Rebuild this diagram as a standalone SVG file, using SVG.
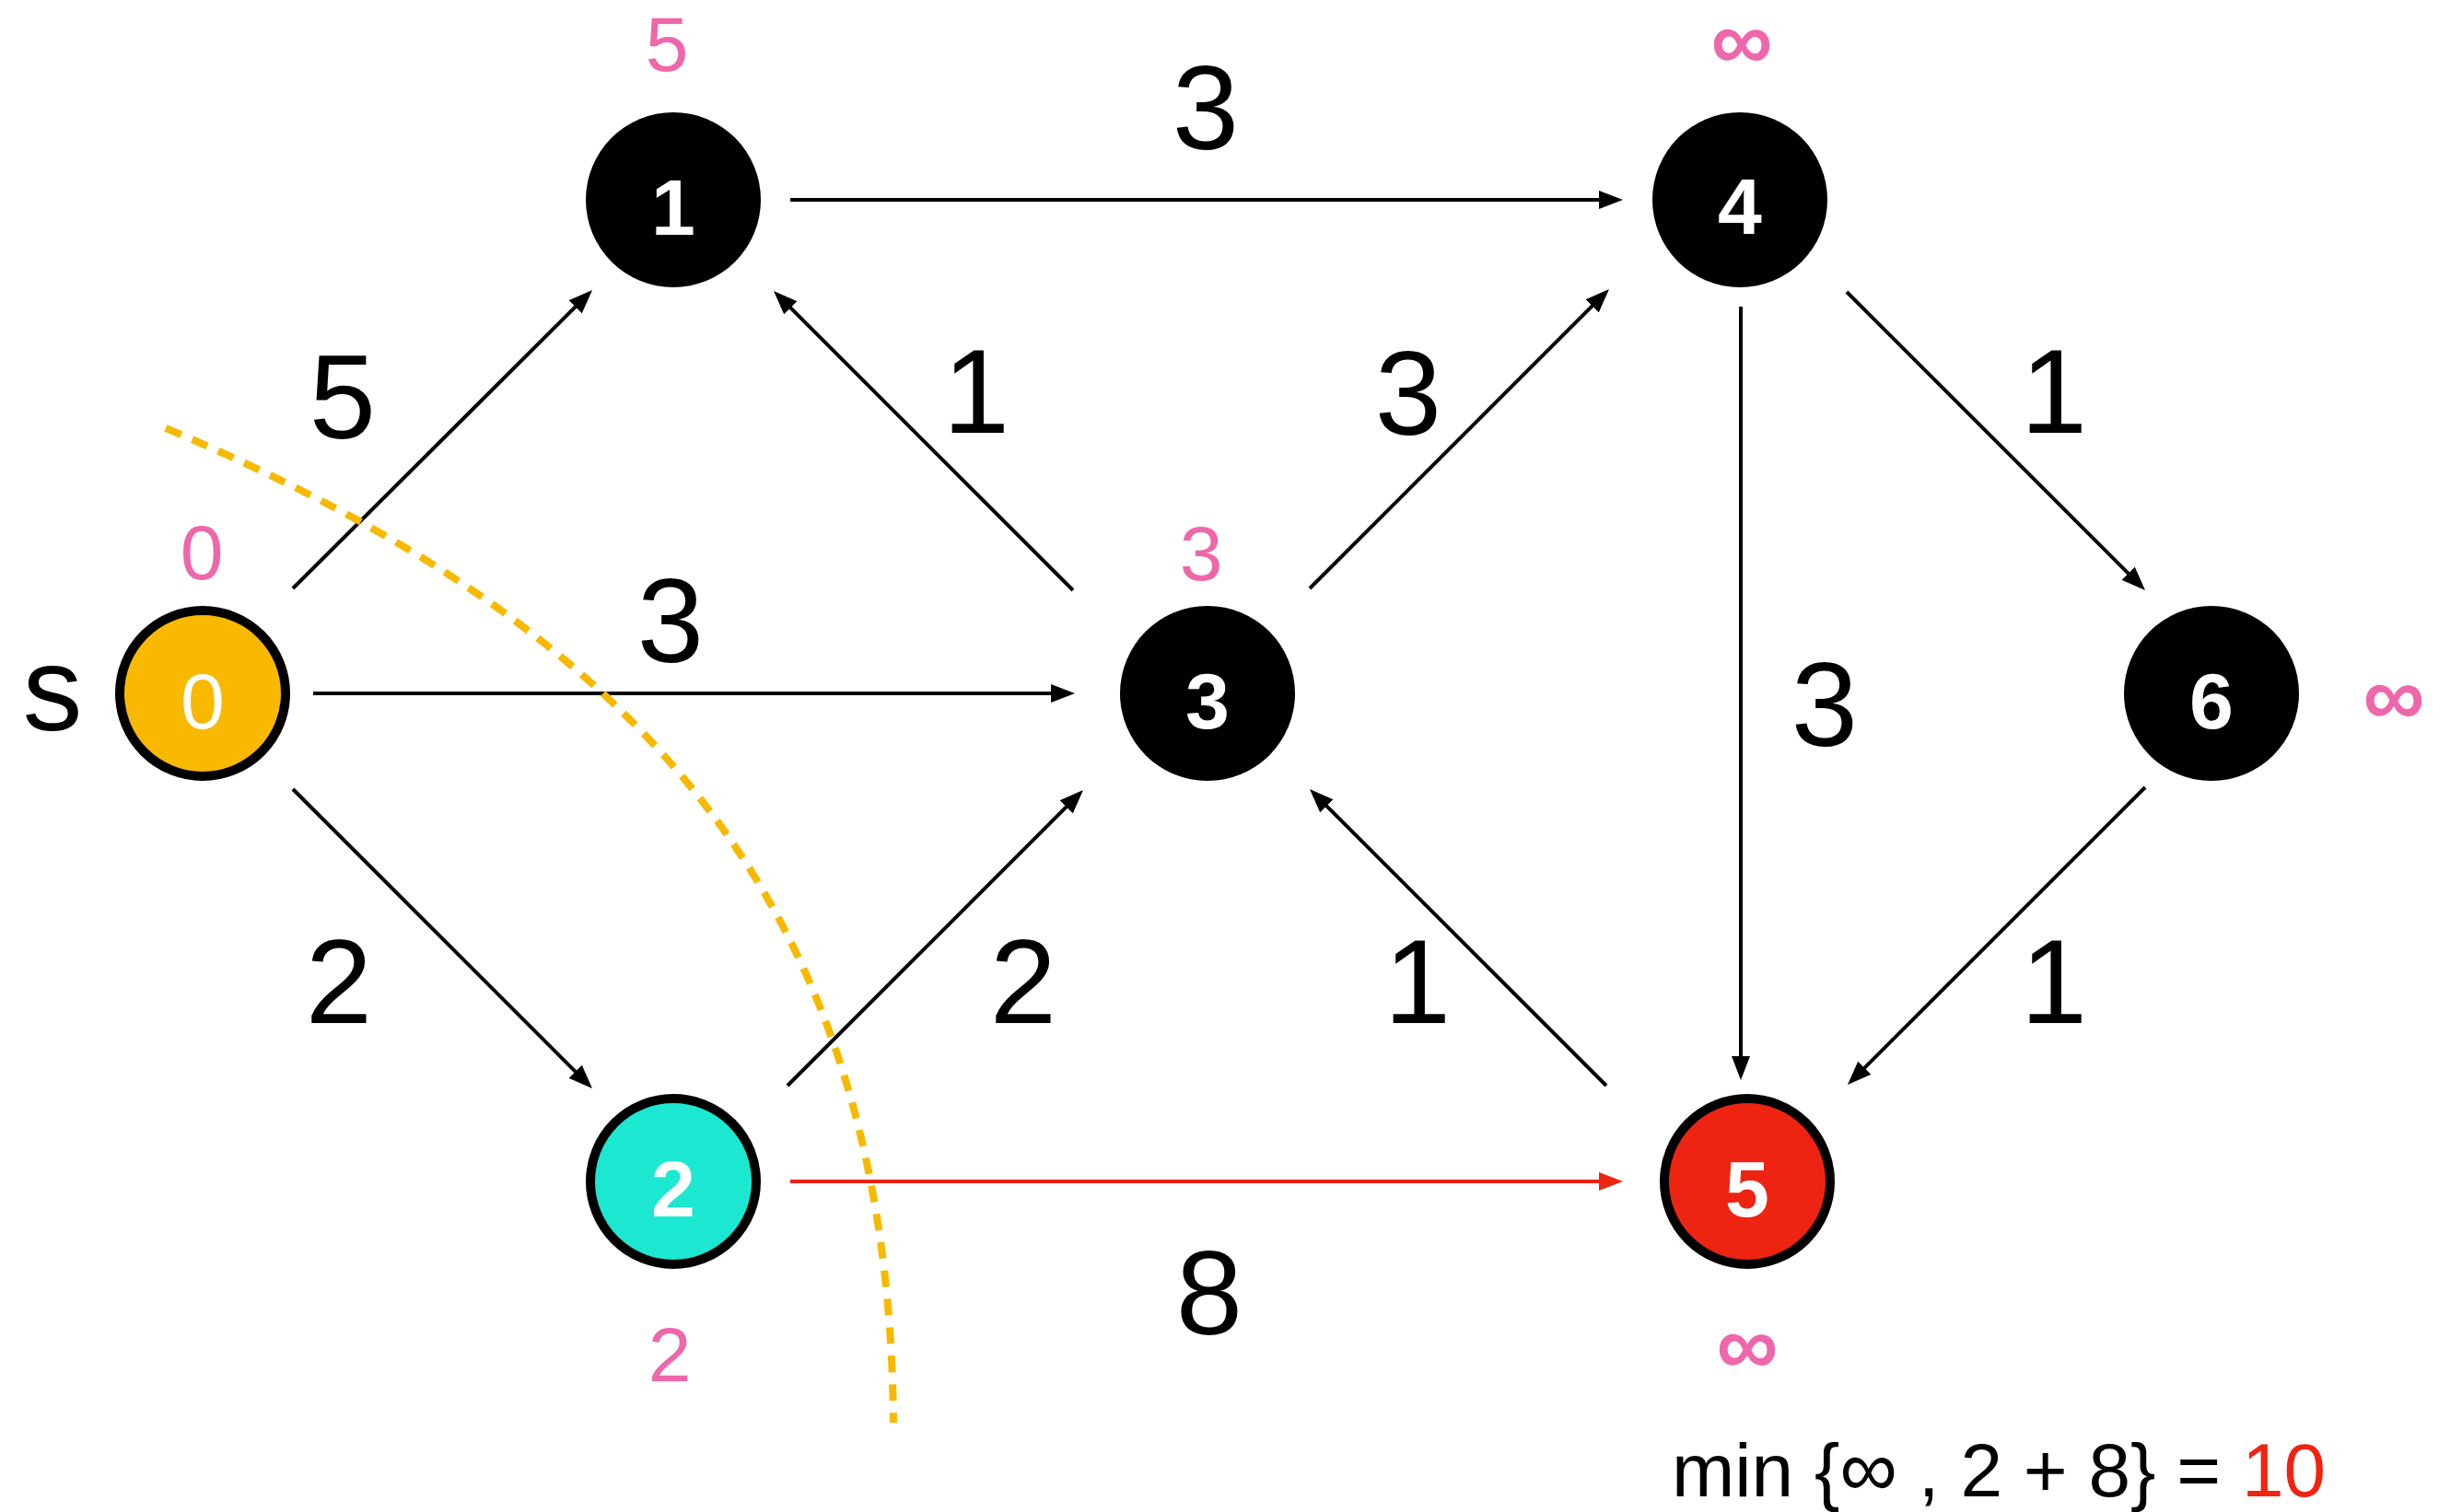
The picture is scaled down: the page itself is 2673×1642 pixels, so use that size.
<svg xmlns="http://www.w3.org/2000/svg" width="2673" height="1642" viewBox="0 0 2673 1642">
  <style>
    text { font-family: "Liberation Sans", Arial, sans-serif; }
    .edge { stroke: #000; stroke-width: 4; fill: none; marker-end: url(#arrow); }
    .edge.hot { stroke: #EE2413; marker-end: url(#arrowRed); }
    .w { font-size: 130px; fill: #000; text-anchor: middle; }
    .d { font-size: 84px; fill: #EF67AB; text-anchor: middle; }
    .inf { font-size: 94px; font-weight: bold; }
    .n { font-size: 86px; fill: #fff; text-anchor: middle; }
    .b { font-weight: bold; }
    .ring { stroke: #000; stroke-width: 10; }
    .cut { stroke: #F7B900; stroke-width: 8; stroke-dasharray: 18 13; fill: none; }
  </style>
  <defs>
    <marker id="arrow" markerUnits="userSpaceOnUse" markerWidth="26" markerHeight="20" viewBox="0 0 26 20" refX="20" refY="10" orient="auto">
      <path d="M0,0 L26,10 L0,20 Z" fill="#000"/>
    </marker>
    <marker id="arrowRed" markerUnits="userSpaceOnUse" markerWidth="26" markerHeight="20" viewBox="0 0 26 20" refX="20" refY="10" orient="auto">
      <path d="M0,0 L26,10 L0,20 Z" fill="#EE2413"/>
    </marker>
  </defs>

  <rect width="2673" height="1642" fill="#fff"/>

  <!-- directed edges -->
  <g id="edges">
    <path class="edge" d="M318,639 L638.8,319.2"/>
    <path class="edge" d="M340,753 L1161,753"/>
    <path class="edge" d="M318,857 L638.8,1177.8"/>
    <path class="edge" d="M858,217 L1756,217"/>
    <path class="edge" d="M1165,641 L844.2,320.2"/>
    <path class="edge" d="M1422,639 L1742.8,318.2"/>
    <path class="edge" d="M1890,333 L1890,1167"/>
    <path class="edge" d="M2005,317 L2324.8,636.8"/>
    <path class="edge" d="M855,1179 L1171.8,862.2"/>
    <path class="edge hot" d="M858,1283 L1756,1283"/>
    <path class="edge" d="M1744,1179 L1426.2,861.2"/>
    <path class="edge" d="M2329,855 L2010.2,1173.8"/>
  </g>

  <!-- edge weights -->
  <g id="weights">
    <text class="w" x="1309" y="162">3</text>
    <text class="w" x="372" y="476">5</text>
    <text class="w" x="1060" y="470">1</text>
    <text class="w" x="1529" y="472">3</text>
    <text class="w" x="2230" y="470">1</text>
    <text class="w" x="728" y="719">3</text>
    <text class="w" x="1981" y="810">3</text>
    <text class="w" x="368" y="1111">2</text>
    <text class="w" x="1111" y="1111">2</text>
    <text class="w" x="1539" y="1111">1</text>
    <text class="w" x="2230" y="1111">1</text>
    <text class="w" x="1313" y="1449">8</text>
  </g>

  <!-- cut boundary -->
  <path class="cut" d="M180,465 C696,682 965,983 970,1545"/>

  <!-- vertices -->
  <g id="node-0">
    <circle class="ring" cx="220" cy="753" r="90" fill="#F8B900"/>
    <text class="n" x="220" y="791">0</text>
  </g>
  <g id="node-1">
    <circle cx="731" cy="217" r="95" fill="#000"/>
    <text class="n b" x="731" y="255">1</text>
  </g>
  <g id="node-2">
    <circle class="ring" cx="731" cy="1283" r="90" fill="#1CE8D2"/>
    <text class="n b" x="731" y="1321">2</text>
  </g>
  <g id="node-3">
    <circle cx="1311" cy="753" r="95" fill="#000"/>
    <text class="n b" x="1311" y="791">3</text>
  </g>
  <g id="node-4">
    <circle cx="1889" cy="217" r="95" fill="#000"/>
    <text class="n b" x="1889" y="254">4</text>
  </g>
  <g id="node-5">
    <circle class="ring" cx="1897" cy="1283" r="90" fill="#EE2413"/>
    <text class="n b" x="1897" y="1321">5</text>
  </g>
  <g id="node-6">
    <circle cx="2401" cy="753" r="95" fill="#000"/>
    <text class="n b" x="2401" y="791">6</text>
  </g>

  <!-- source marker -->
  <text x="57" y="793" font-size="130" text-anchor="middle">s</text>

  <!-- tentative distances -->
  <g id="distances">
    <text class="d" x="219" y="629">0</text>
    <text class="d" x="724" y="77">5</text>
    <text class="d" x="1304" y="630">3</text>
    <text class="d" x="727" y="1500">2</text>
    <text class="d inf" x="1891" y="76">∞</text>
    <text class="d inf" x="1897" y="1493">∞</text>
    <text class="d inf" x="2599" y="788">∞</text>
  </g>

  <!-- relaxation of vertex 5 -->
  <text x="1815" y="1625" font-size="82">min {<tspan font-size="88">∞</tspan> , 2 + 8} = <tspan fill="#EE2413">10</tspan></text>
</svg>
